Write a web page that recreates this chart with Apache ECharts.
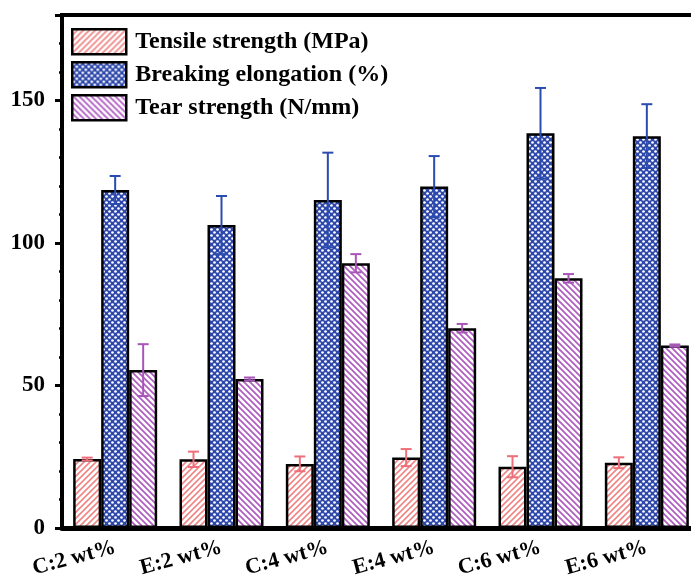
<!DOCTYPE html>
<html>
<head>
<meta charset="utf-8">
<script src="https://cdn.jsdelivr.net/npm/echarts@6/dist/echarts.min.js"></script>
<style>
html,body{margin:0;padding:0;background:#fff;overflow:hidden;}
#chart{width:710px;height:581px;}
</style>
</head>
<body>
<div id="chart"></div>
<script>
const categories = ['C:2 wt%', 'E:2 wt%', 'C:4 wt%', 'E:4 wt%', 'C:6 wt%', 'E:6 wt%'];
const seriesNames = ['Tensile strength (MPa)', 'Breaking elongation (%)', 'Tear strength (N/mm)'];
const tensile = [24.2, 24.1, 22.5, 24.7, 21.5, 22.9];
const tensileErr = [0.5, 2.7, 2.6, 3.0, 3.7, 1.9];
const breaking = [118.6, 106.3, 115.1, 119.8, 138.5, 137.5];
const breakingErr = [4.9, 10.2, 16.6, 10.7, 15.9, 11.2];
const tear = [55.4, 52.3, 92.9, 70.1, 87.6, 64.0];
const tearErr = [9.1, 0.5, 3.2, 1.5, 1.5, 0.4];
const yTicks = [0, 50, 100, 150];

const FONT = '"Liberation Serif", "Times New Roman", serif';

function stripePattern(color, dir, p, lw) {
  const c = document.createElement('canvas');
  c.width = p; c.height = p;
  const g = c.getContext('2d');
  g.fillStyle = '#fff';
  g.fillRect(0, 0, p, p);
  g.strokeStyle = color;
  g.lineWidth = lw;
  g.beginPath();
  if (dir === '/') {
    for (let k = -1; k <= 1; k++) {
      g.moveTo(k * p - 1, p + 1);
      g.lineTo(k * p + p + 1, -1);
    }
  } else {
    for (let k = -1; k <= 1; k++) {
      g.moveTo(k * p - 1, -1);
      g.lineTo(k * p + p + 1, p + 1);
    }
  }
  g.stroke();
  return { image: c, repeat: 'repeat' };
}
function dotPattern(bg, dot, p, r) {
  const c = document.createElement('canvas');
  c.width = p; c.height = p;
  const g = c.getContext('2d');
  g.fillStyle = bg;
  g.fillRect(0, 0, p, p);
  g.fillStyle = dot;
  [[p / 4, p / 4], [3 * p / 4, 3 * p / 4]].forEach(function (d) {
    g.beginPath();
    g.arc(d[0], d[1], r, 0, Math.PI * 2);
    g.fill();
  });
  return { image: c, repeat: 'repeat' };
}

const redPat = stripePattern('#f08585', '/', 6, 1.6);
const bluePat = dotPattern('#2d48aa', '#ffffff', 6, 1.35);
const purplePat = stripePattern('#b05cc2', '\\', 6, 1.7);

const BAR_W = 28;
const errColors = ['#ee6f7a', '#2a4bb0', '#a855b8'];

function makeErr(values, errs) {
  return values.map(function (v, i) { return [i, v, errs[i]]; });
}
function errRender(offset, color) {
  return function (params, api) {
    const x = api.value(0), v = api.value(1), e = api.value(2);
    const top = api.coord([x, v + e]);
    const bot = api.coord([x, v - e]);
    const cx = top[0] + offset;
    const hw = 5.5;
    const st = { stroke: color, lineWidth: 2 };
    return {
      type: 'group',
      children: [
        { type: 'line', shape: { x1: cx, y1: top[1], x2: cx, y2: bot[1] }, style: st },
        { type: 'line', shape: { x1: cx - hw, y1: top[1], x2: cx + hw, y2: top[1] }, style: st },
        { type: 'line', shape: { x1: cx - hw, y1: bot[1], x2: cx + hw, y2: bot[1] }, style: st }
      ]
    };
  };
}

const barStyleBase = { borderColor: '#000', borderWidth: 2.5 };

const chart = echarts.init(document.getElementById('chart'), null, { renderer: 'canvas' });
chart.setOption({
  animation: false,
  backgroundColor: '#fff',
  grid: { left: 62, right: 10, top: 15, bottom: 53, show: true, borderColor: '#000', borderWidth: 4, backgroundColor: 'transparent' },
  legend: {
    data: seriesNames,
    orient: 'vertical',
    left: 71, top: 28, padding: 0,
    itemWidth: 54, itemHeight: 25, itemGap: 5.5,
    icon: 'rect',
    itemStyle: { borderColor: '#000', borderWidth: 2.5 },
    textStyle: { fontFamily: FONT, fontWeight: 'bold', fontSize: 24, color: '#000', padding: [0, 0, 0, 4] },
    selectedMode: false
  },
  xAxis: {
    type: 'category',
    data: categories,
    axisLine: { lineStyle: { color: '#000', width: 5 } },
    axisTick: { show: false },
    axisLabel: { rotate: 15, margin: 19, interval: 0, fontFamily: FONT, fontWeight: 'bold', fontSize: 22, color: '#000' },
    z: 5
  },
  yAxis: {
    type: 'value',
    min: 0, max: 180, interval: 50,
    axisLine: { show: true, lineStyle: { color: '#000', width: 4 } },
    axisTick: { show: true, length: 7, lineStyle: { width: 3, color: '#000' } },
    minorTick: { show: true, splitNumber: 5, length: 3, lineStyle: { width: 2.5, color: '#000' } },
    splitLine: { show: false },
    axisLabel: {
      showMaxLabel: false, margin: 17,
      fontFamily: FONT, fontWeight: 'bold', fontSize: 23, color: '#000',
      formatter: function (v) { return yTicks.indexOf(v) >= 0 ? String(v) : ''; }
    },
    z: 5
  },
  series: [
    { name: seriesNames[0], type: 'bar', data: tensile, barWidth: BAR_W, barGap: '0%', itemStyle: Object.assign({ color: redPat }, barStyleBase) },
    { name: seriesNames[1], type: 'bar', data: breaking, barWidth: BAR_W, barGap: '0%', itemStyle: Object.assign({ color: bluePat }, barStyleBase) },
    { name: seriesNames[2], type: 'bar', data: tear, barWidth: BAR_W, barGap: '0%', itemStyle: Object.assign({ color: purplePat }, barStyleBase) },
    { name: 'errT', type: 'custom', data: makeErr(tensile, tensileErr), renderItem: errRender(-BAR_W, errColors[0]), encode: { x: 0, y: 1 }, z: 10, silent: true },
    { name: 'errB', type: 'custom', data: makeErr(breaking, breakingErr), renderItem: errRender(0, errColors[1]), encode: { x: 0, y: 1 }, z: 10, silent: true },
    { name: 'errR', type: 'custom', data: makeErr(tear, tearErr), renderItem: errRender(BAR_W, errColors[2]), encode: { x: 0, y: 1 }, z: 10, silent: true }
  ]
});
</script>
</body>
</html>
